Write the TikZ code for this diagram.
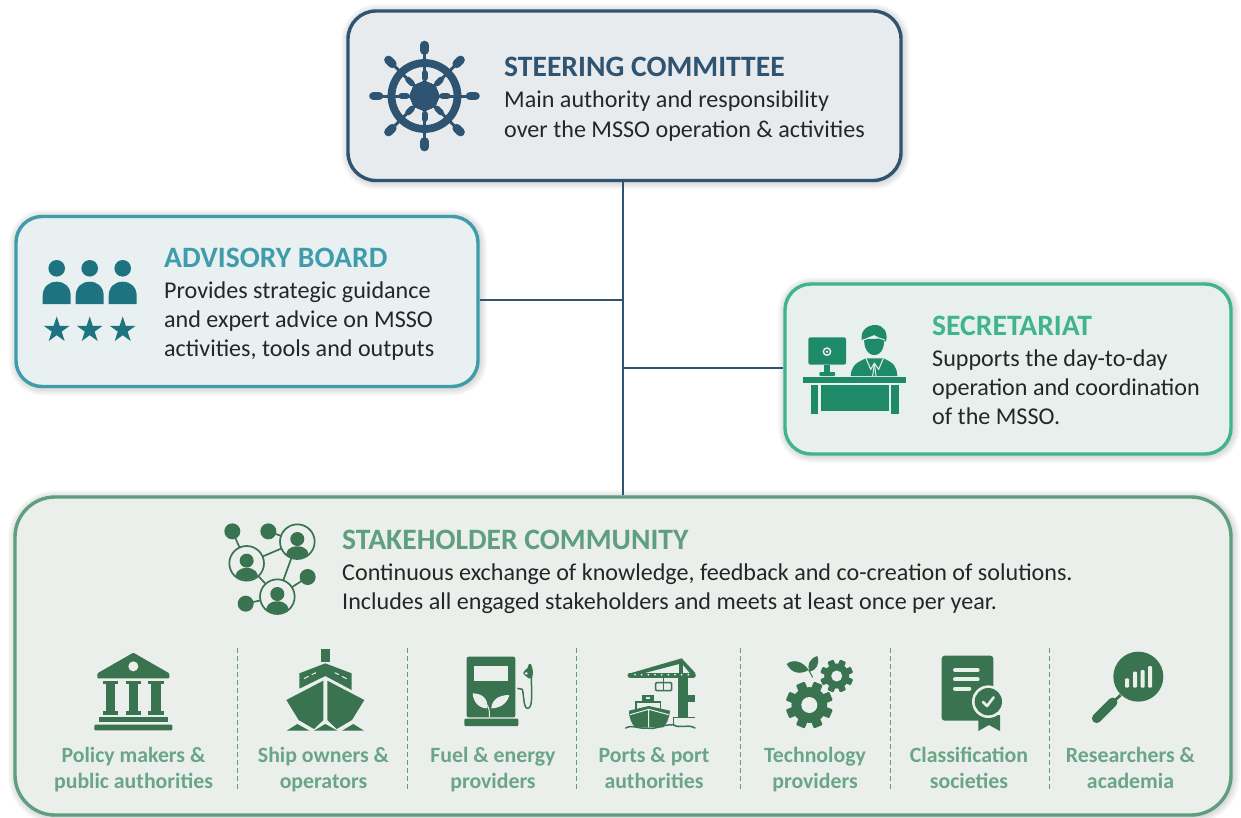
\documentclass[tikz,border=0pt]{standalone}
\usepackage{fontspec}
\setmainfont{Carlito}
\definecolor{navy}{HTML}{2F5472}
\definecolor{navyfill}{HTML}{E8EBED}
\definecolor{teal}{HTML}{3F9DAB}
\definecolor{tealdark}{HTML}{1D7480}
\definecolor{tealfill}{HTML}{E8F0F1}
\definecolor{mint}{HTML}{3FB48F}
\definecolor{mintdark}{HTML}{1F8A68}
\definecolor{mintfill}{HTML}{E8F0EE}
\definecolor{sage}{HTML}{5F9E7F}
\definecolor{sagedark}{HTML}{3A7350}
\definecolor{sagefill}{HTML}{EAEFEC}
\definecolor{sagetext}{HTML}{6AA587}
\definecolor{linkcol}{HTML}{2F5472}
\definecolor{bodytext}{HTML}{262626}
\tikzset{
  x=1pt,y=-1pt,
  panel/.style={rectangle,rounded corners=#1,line width=3.4pt,inner sep=0pt,anchor=center},
  title/.style={anchor=base west,inner sep=0pt,font=\fontsize{29.6}{31}\selectfont\bfseries},
  body/.style={anchor=base west,inner sep=0pt,font=\fontsize{24.1}{29}\selectfont,text=bodytext},
  cat/.style={anchor=center,inner sep=0pt,align=center,text=sagetext,font=\fontsize{21.8}{26}\selectfont\bfseries},
  sep/.style={sage,line width=0.9pt,dash pattern=on 5pt off 3pt},
  link/.style={linkcol,line width=2.2pt},
  zoomed/.style={shift={(#1)},scale=1/3},
}
\newcommand{\softshadow}[5]{%
  \foreach \g in {1,...,8}{
    \fill[black,opacity=0.02,rounded corners=#5+\g]
      (#1-\g+1,#2-\g+1) rectangle (#3+\g+1,#4+\g+1);
  }}
\newcommand{\staricon}[3]{%
  \fill[tealdark,shift={(#1,#2)},scale=#3] (0,-1)--(0.2245,-0.309)--(0.951,-0.309)--(0.363,0.118)--(0.588,0.809)--(0,0.382)--(-0.588,0.809)--(-0.363,0.118)--(-0.951,-0.309)--(-0.2245,-0.309)--cycle;}
\newcommand{\personicon}[1]{%
  \fill[tealdark] (#1,268.3) circle (8.3);
  \fill[tealdark] (#1-14,304) -- (#1-14,296) .. controls (#1-14,287) and (#1-8,281.7) .. (#1,281.7) .. controls (#1+8,281.7) and (#1+14,287) .. (#1+14,296) -- (#1+14,304) -- cycle;}
\newcommand{\netperson}[2]{%
  \fill[sagefill] (#1,#2) circle (52);
  \begin{scope}
    \clip (#1,#2) circle (50);
    \fill[sagedark] (#1,#2-8) circle (21);
    \fill[sagedark] (#1-36,#2+60) .. controls (#1-36,#2+22) and (#1-22,#2+14) .. (#1,#2+14) .. controls (#1+22,#2+14) and (#1+36,#2+22) .. (#1+36,#2+60) -- cycle;
  \end{scope}
  \draw[sagedark,line width=1.7pt] (#1,#2) circle (52);}
\newcommand{\gearicon}[4]{%
  \fill[sagedark] (#1,#2) circle (#3*0.76);
  \foreach \a in {0,45,...,315}{
    \fill[sagedark,rounded corners=1pt,rotate around={\a+22.5:(#1,#2)}] (#1-#3*0.2,#2-#3) rectangle (#1+#3*0.2,#2);
  }
  \fill[sagefill] (#1,#2) circle (#4);}
\begin{document}
\begin{tikzpicture}
\useasboundingbox (0,0) rectangle (1241,817);
\fill[white] (0,0) rectangle (1241,817);

% shadows
\softshadow{348}{11}{901}{180.5}{28}
\softshadow{16}{216.5}{478}{386.5}{26}
\softshadow{785}{284}{1231}{454}{26}
\softshadow{15}{497}{1231}{815}{40}

% panels
\node[panel=28pt,draw=navy,fill=navyfill,minimum width=553pt,minimum height=169.5pt] (steer) at (624.5,95.75) {};
\node[panel=26pt,draw=teal,fill=tealfill,minimum width=462pt,minimum height=170pt] (adv) at (247,301.5) {};
\node[panel=26pt,draw=mint,fill=mintfill,minimum width=446pt,minimum height=170pt] (sec) at (1008,369) {};
\node[panel=40pt,draw=sage,fill=sagefill,minimum width=1216pt,minimum height=318pt] (stake) at (623,656) {};

% connectors
\coordinate[xshift=-1.8pt] (steerout) at (steer.south);
\coordinate[yshift=1.5pt] (advout) at (adv.east);
\coordinate[yshift=1pt] (secout) at (sec.west);
\coordinate (hubadv) at (advout -| steerout);
\coordinate (hubsec) at (secout -| steerout);
\coordinate (hubstake) at (stake.north -| steerout);
\draw[link] (steerout) -- (hubstake);
\draw[link] (advout) -- (hubadv);
\draw[link] (hubsec) -- (secout);

% titles and bodies
\node[title,text=navy] (t1) at (504,76) {STEERING COMMITTEE};
\node[body] (b1a) at (504,107) {Main authority and responsibility};
\node[body] (b1b) at (504,137) {over the MSSO operation \& activities};
\node[title,text=teal] (t2) at (164,267) {ADVISORY BOARD};
\node[body] (b2a) at (164,298) {Provides strategic guidance};
\node[body] (b2b) at (164,327) {and expert advice on MSSO};
\node[body] (b2c) at (164,356) {activities, tools and outputs};
\node[title,text=mint] (t3) at (932,335) {SECRETARIAT};
\node[body] (b3a) at (932,366) {Supports the day-to-day};
\node[body] (b3b) at (932,395) {operation and coordination};
\node[body] (b3c) at (932,424) {of the MSSO.};
\node[title,text=sage] (t4) at (342,549) {STAKEHOLDER COMMUNITY};
\node[body] (b4a) at (342,580) {Continuous exchange of knowledge, feedback and co-creation of solutions.};
\node[body] (b4b) at (342,609) {Includes all engaged stakeholders and meets at least once per year.};

% category labels
\node[cat] (c1) at (133.5,770) {\strut Policy makers \&\\\strut public authorities};
\node[cat] (c2) at (323.5,770) {\strut Ship owners \&\\\strut operators};
\node[cat] (c3) at (493,770) {\strut Fuel \& energy\\\strut providers};
\node[cat] (c4) at (654,770) {\strut Ports \& port\\\strut authorities};
\node[cat] (c5) at (815,770) {\strut Technology\\\strut providers};
\node[cat] (c6) at (969,770) {\strut Classification\\\strut societies};
\node[cat] (c7) at (1130.5,770) {\strut Researchers \&\\\strut academia};

% separators
\foreach \sx in {237,407,576,740,890,1049}{
  \draw[sep] (\sx,648) -- (\sx,790);
}

% steering wheel
\begin{scope}[shift={(424.5,96)}]
  \foreach \a in {0,45,...,315}{
    \begin{scope}[rotate=\a]
      \draw[navy,line width=3pt] (0,-10) -- (0,-46);
      \draw[navy,line width=8.6pt,line cap=round] (0,-45.5) -- (0,-51);
      \draw[navy,line width=6pt,line cap=round] (0,-18) -- (0,-23);
    \end{scope}
  }
  \draw[navy,line width=7.8pt] (0,0) circle (33);
  \foreach \a in {22.5,67.5,...,337.5}{
    \fill[navy,rotate=\a] (-5.5,-14) -- (5.5,-14) -- (14,-5.5) -- (14,5.5) -- (5.5,14) -- (-5.5,14) -- (-14,5.5) -- (-14,-5.5) -- cycle;
  }
\end{scope}

% advisory icon
\personicon{56.7}
\personicon{89.7}
\personicon{122.7}
\staricon{56.7}{330}{13.6}
\staricon{89.7}{330}{13.6}
\staricon{122.7}{330}{13.6}

% secretariat icon
\begin{scope}[zoomed={780,280}]
  \fill[mintdark,rounded corners=2pt] (85,172) rectangle (198,254);
  \draw[mintfill,line width=1.4pt] (141,215) circle (11);
  \fill[mintfill] (141,215) circle (4);
  \fill[mintdark] (133,254) rectangle (150,276);
  \fill[mintdark,rounded corners=1pt] (118,276) rectangle (165,288);
  \fill[mintdark] (70,292) rectangle (378,310);
  \fill[mintdark] (92,316) rectangle (115,403);
  \fill[mintdark] (333,316) rectangle (357,403);
  \fill[mintdark] (122,316) rectangle (327,392);
  % person
  \fill[mintdark] (245,180) .. controls (240,150) and (265,135) .. (285,135) .. controls (310,135) and (325,155) .. (318,185) -- (283,165) -- cycle;
  \fill[mintdark] (253,175) .. controls (270,178) and (295,178) .. (312,170) .. controls (315,200) and (305,225) .. (283,225) .. controls (262,225) and (250,200) .. (253,175) -- cycle;
  \draw[mintfill,line width=0.9pt] (250,180) .. controls (270,170) and (295,170) .. (314,180);
  \fill[mintdark] (212,288) .. controls (214,262) and (222,250) .. (258,235) -- (310,235) .. controls (345,250) and (350,262) .. (352,288) -- cycle;
  \draw[mintfill,line width=1pt] (258,235) -- (272,268) -- (283,250) -- (296,268) -- (310,235);
  \draw[mintfill,line width=1pt] (283,250) -- (278,288);
  \draw[mintfill,line width=1pt] (283,250) -- (288,288);
\end{scope}

% stakeholder network icon
\begin{scope}[zoomed={200,500}]
  \draw[sagedark,line width=1.7pt] (97,94) -- (140,190) (205,94) -- (292,125) (323,231) -- (232,290) (137,311) -- (232,290) (140,190) -- (292,125) (140,190) -- (232,290) (292,125) -- (232,290);
  \fill[sagedark] (97,94) circle (24) (205,94) circle (24) (323,231) circle (24) (137,311) circle (24);
  \netperson{292}{125}
  \netperson{140}{190}
  \netperson{232}{290}
\end{scope}

% building icon
\begin{scope}[zoomed={40,640}]
  \fill[sagedark,rounded corners=1pt] (280,38) -- (388,100) -- (388,115) -- (172,115) -- (172,100) -- cycle;
  \fill[sagefill] (280,79) circle (15);
  \foreach \c in {212,280,348}{
    \fill[sagedark] (\c-23,122) rectangle (\c+23,132);
    \fill[sagedark] (\c-14,132) rectangle (\c+14,214);
    \fill[sagedark] (\c-23,214) rectangle (\c+23,225);
  }
  \fill[sagedark] (178,232) rectangle (383,246);
  \fill[sagedark,rounded corners=1pt] (163,254) rectangle (397,271);
\end{scope}

% ship icon
\begin{scope}[zoomed={40,640}]
  \fill[sagedark] (842,28) rectangle (870,65);
  \fill[sagedark] (778,100) -- (856,70) -- (935,100) -- (935,150) -- (856,108) -- (778,146) -- cycle;
  \draw[sagefill,line width=1pt] (792,116) -- (806,109) (815,104) -- (828,98) (884,98) -- (897,104) (906,109) -- (920,116);
  \fill[sagedark] (739,180) -- (850,122) -- (850,240) -- (822,267) -- (776,240) -- cycle;
  \fill[sagedark] (973,180) -- (862,122) -- (862,240) -- (890,267) -- (936,240) -- cycle;
  \fill[sagedark] (740,272) -- (772,252) -- (808,272) -- cycle;
  \fill[sagedark] (822,272) -- (856,252) -- (892,272) -- cycle;
  \fill[sagedark] (906,272) -- (940,252) -- (972,272) -- cycle;
\end{scope}

% fuel pump icon
\begin{scope}[zoomed={430,640}]
  \fill[sagedark,rounded corners=2pt] (110,50) rectangle (256,232);
  \fill[sagefill] (133,78) rectangle (235,122);
  \fill[sagedark,rounded corners=1pt] (103,236) rectangle (265,258);
  \fill[sagefill] (172,205) .. controls (145,205) and (130,185) .. (128,160) .. controls (155,160) and (175,175) .. (172,205) -- cycle;
  \fill[sagefill] (184,205) .. controls (210,205) and (232,190) .. (238,165) .. controls (205,165) and (185,180) .. (184,205) -- cycle;
  \draw[sagefill,line width=1pt] (172,195) .. controls (180,210) and (178,220) .. (178,232);
  \draw[sagedark,line width=1.5pt] (262,145) -- (277,148) .. controls (282,165) and (280,205) .. (293,205) .. controls (310,205) and (304,150) .. (304,110);
  \fill[sagedark] (297,72) -- (303,72) .. controls (310,90) and (310,100) .. (306,115) -- (296,115) .. controls (294,112) and (278,105) .. (280,97) .. controls (282,90) and (290,88) .. (292,85) -- cycle;
  \fill[sagefill] (289,100) circle (4.5);
\end{scope}

% port icon
\begin{scope}[zoomed={430,640}]
  \fill[sagedark] (600,100) -- (755,55) -- (797,100) -- (780,100) -- (755,70) -- (640,100) -- cycle;
  \fill[sagedark] (748,60) rectangle (760,105);
  \draw[sagedark,line width=5pt,line cap=round] (600,105) -- (790,105);
  \foreach \d in {615,635,...,775}{ \fill[sagefill] (\d,104) circle (3); }
  \fill[sagedark] (745,108) rectangle (773,235);
  \fill[sagedark] (771,165) rectangle (795,185);
  \draw[sagedark,line width=1.5pt] (700,110) -- (700,128);
  \draw[sagedark,line width=1.6pt,rounded corners=1pt] (677,128) rectangle (725,152);
  \draw[sagedark,line width=1.2pt] (701,128) -- (701,152);
  \draw[sagedark,line width=1.6pt] (730,258) -- (730,233) -- (795,233);
  \draw[sagedark,line width=1.5pt,line cap=round] (587,264) .. controls (610,252) and (625,268) .. (650,264) .. controls (680,270) and (690,254) .. (730,254) .. controls (750,268) and (770,250) .. (795,264);
  \fill[sagedark] (636,166) rectangle (672,184);
  \fill[sagefill] (648,170) rectangle (660,177);
  \draw[sagedark,line width=1.6pt] (618,208) -- (618,186) -- (692,186) -- (692,208);
  \fill[sagedark] (597,212) -- (656,198) -- (720,212) .. controls (718,235) and (708,255) .. (700,262) -- (615,262) .. controls (605,250) and (597,235) .. (597,212) -- cycle;
  \draw[sagefill,line width=1pt] (600,224) -- (656,208) -- (716,224) (656,208) -- (656,262);
\end{scope}

% gears icon
\gearicon{809.3}{705}{23.5}{8}
\gearicon{836.7}{676}{16.5}{5.5}
\begin{scope}[zoomed={750,640}]
  \fill[sagedark] (110,72) .. controls (130,55) and (160,65) .. (176,90) .. controls (150,105) and (125,100) .. (110,72) -- cycle;
  \fill[sagedark] (202,48) .. controls (180,55) and (168,75) .. (180,95) .. controls (200,90) and (210,70) .. (202,48) -- cycle;
  \draw[sagedark,line width=1pt] (176,90) -- (188,112);
\end{scope}

% certificate icon
\begin{scope}[zoomed={750,640}]
  \fill[sagedark,rounded corners=3pt] (575,47) rectangle (730,242);
  \fill[sagedark] (685,225) -- (750,225) -- (750,273) -- (717,255) -- (685,273) -- cycle;
  \fill[sagefill] (715,185) circle (49);
  \fill[sagedark] (715,185) circle (41);
  \draw[sagefill,line width=2.6pt,line cap=round,line join=round] (699,186) -- (711,198) -- (731,172);
  \draw[sagefill,line width=4pt,line cap=round] (615,90) -- (683,90) (615,118) -- (683,118) (615,146) -- (658,146);
\end{scope}

% magnifier icon
\begin{scope}[zoomed={750,640}]
  \fill[sagedark] (1165,110) circle (75);
  \draw[sagedark,line width=2.8pt] (1112,165) -- (1085,190);
  \draw[sagedark,line width=9.5pt,line cap=round] (1088,187) -- (1040,235);
  \foreach \bx/\by in {1131/115,1155/95,1178/90,1200/78}{
    \fill[sagefill,rounded corners=1pt] (\bx-6,\by) rectangle (\bx+6,143);
  }
\end{scope}
\end{tikzpicture}
\end{document}
